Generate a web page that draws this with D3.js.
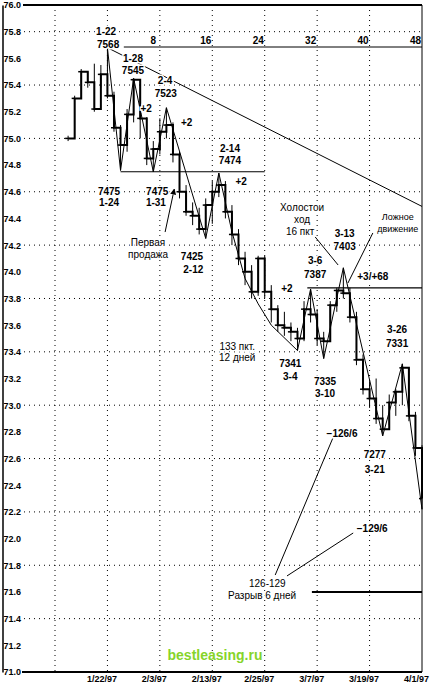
<!DOCTYPE html>
<html>
<head>
<meta charset="utf-8">
<script src="https://cdn.jsdelivr.net/npm/d3@7"></script>
<style>
  body { margin: 0; background: #fff; }
  text { font-family: "Liberation Sans", Arial, sans-serif; fill: #000; }
  .num { font-size: 10px; font-weight: bold; }
  .ru { font-size: 10px; }
  .ru-small { font-size: 9px; }
  .halo { paint-order: stroke; stroke: #fff; stroke-width: 3px; }
</style>
</head>
<body>
<div id="chart"></div>
<script>
// bars: day index (0 = 1/22/97), high, low, close
var days   = [-6,-5,-4,-3,-2,-1,0,1,2,3,4,5,6,7,8,9,10,11,12,13,14,15,16,17,18,19,20,21,22,23,24,25,26,27,28,29,30,31,32,33,34,35,36,37,38,39,40,41,42,43,44,45,46,47,48];
var highs  = [75.02,75.32,75.52,75.50,75.56,75.55,75.68,75.35,75.10,75.22,75.45,75.44,75.16,74.98,75.15,75.23,75.12,74.90,74.65,74.52,74.48,74.55,74.68,74.74,74.68,74.50,74.32,74.15,74.05,74.12,74.12,73.90,73.75,73.70,73.62,73.58,73.78,73.87,73.72,73.55,73.78,73.88,74.03,73.88,73.70,73.38,73.18,73.20,73.00,73.08,73.12,73.31,73.28,72.95,72.70];
var lows   = [74.98,75.00,75.30,75.38,75.20,75.38,75.30,75.05,74.76,74.90,75.12,75.00,74.80,74.75,74.88,75.00,74.82,74.55,74.42,74.35,74.28,74.25,74.36,74.56,74.40,74.20,74.05,73.90,73.80,73.82,73.80,73.62,73.55,73.52,73.48,73.41,73.48,73.62,73.45,73.35,73.48,73.70,73.80,73.62,73.30,73.08,72.98,72.86,72.77,72.85,72.92,73.00,72.88,72.62,72.22];
var closes = [75.00,75.30,75.50,75.42,75.22,75.48,75.32,75.08,74.95,75.18,75.44,75.15,74.85,74.92,75.05,75.10,74.88,74.60,74.45,74.42,74.32,74.50,74.60,74.65,74.45,74.28,74.10,74.00,73.85,74.10,73.85,73.72,73.60,73.58,73.55,73.50,73.72,73.68,73.50,73.48,73.75,73.86,73.84,73.66,73.34,73.12,73.05,72.90,72.82,73.02,73.10,73.28,72.92,72.68,72.30];

// swing line through the marked highs and lows
var swingDays   = [0,2,4,7,9,15,17,19,21,23,25,29,31,33,36,42,45,48];
var swingPrices = [75.68,74.76,75.45,74.75,75.23,74.25,74.74,74.30,73.95,73.76,73.60,73.41,73.87,73.35,74.03,72.77,73.31,72.22];

var yTicks = d3.range(71, 76.01, 0.2);
var gridPrices = [71.4,71.8,72.2,72.6,73.0,73.4,73.8,74.2,74.6,75.0,75.4,75.8];
var gridDays = [-8,0,8,16,24,32,40];
var dateDays = [0,8,16,24,32,40,48];
var dateLabels = ["1/22/97","2/3/97","2/13/97","2/25/97","3/7/97","3/19/97","4/1/97"];
var countDays = [8,16,24,32,40,48];

// annotations: text, day, price, class
var notes = [
  ["1-22",-0.2,75.775,"num"],["7568",0.1,75.678,"num"],
  ["1-28",3.9,75.573,"num"],["7545",3.9,75.483,"num"],
  ["2-4",8.8,75.408,"num"],["7523",8.9,75.31,"num"],
  ["+2",5.9,75.198,"num"],["+2",12.1,75.093,"num"],
  ["7475",0.25,74.576,"num"],["1-24",0.25,74.49,"num"],
  ["7475",7.6,74.576,"num"],["1-31",7.4,74.49,"num"],
  ["Первая",6.2,74.19,"ru"],["продажа",6.2,74.105,"ru"],
  ["7425",12.9,74.088,"num"],["2-12",13.1,73.99,"num"],
  ["2-14",18.7,74.898,"num"],["7474",18.7,74.808,"num"],
  ["+2",20.4,74.651,"num"],
  ["Холостои",29.7,74.456,"ru"],["ход",29.7,74.366,"ru"],["16 пкт",29.4,74.276,"ru"],
  ["3-13",36.2,74.261,"num"],["7403",36.2,74.163,"num"],
  ["Ложное",44.3,74.388,"ru-small"],["движение",44.3,74.298,"ru-small"],
  ["+3/+68",40.5,73.939,"num"],
  ["3-6",31.7,74.058,"num"],["7387",31.7,73.954,"num"],
  ["+2",27.4,73.849,"num"],
  ["3-26",44.2,73.541,"num"],["7331",44.2,73.436,"num"],
  ["133 пкт.",19.8,73.414,"ru"],["12 дней",19.8,73.331,"ru"],
  ["7341",27.9,73.286,"num"],["3-4",27.9,73.189,"num"],
  ["7335",33.2,73.151,"num"],["3-10",33.2,73.061,"num"],
  ["−126/6",35.8,72.762,"num"],
  ["7277",40.8,72.604,"num"],["3-21",40.8,72.492,"num"],
  ["−129/6",40.4,72.049,"num"],
  ["126-129",24.4,71.637,"ru"],["Разрыв 6 дней",23.6,71.547,"ru"]
];

// thin pointer lines: day1, price1, day2, price2
var pointers = [
  [31.7,74.261,35.2,74.051],
  [40.5,74.291,36.7,73.916],
  [25.6,71.727,34.4,72.754],
  [27.4,71.72,37.5,72.042]
];

var width = 431, height = 687;
var svg = d3.select("#chart").append("svg")
    .attr("width", width)
    .attr("height", height);

var x = d3.scaleLinear().domain([-8, 48]).range([55, 422]);
var y = d3.scaleLinear().domain([71, 76]).range([672, 5]);

// dotted grid
svg.append("g").selectAll("line")
    .data(gridPrices)
    .enter().append("line")
    .attr("x1", 24).attr("x2", 422)
    .attr("y1", d => y(d)).attr("y2", d => y(d))
    .style("stroke", "#000").style("stroke-width", 1)
    .style("stroke-dasharray", "1,4");

svg.append("g").selectAll("line")
    .data(gridDays)
    .enter().append("line")
    .attr("x1", d => x(d)).attr("x2", d => x(d))
    .attr("y1", y(76)).attr("y2", y(71))
    .style("stroke", "#000").style("stroke-width", 1)
    .style("stroke-dasharray", "1,4");

// left axis
var yAxis = svg.append("g")
    .attr("transform", "translate(2.5,0)")
    .call(d3.axisRight(y).tickValues(yTicks).tickSize(0).tickPadding(1).tickFormat(d3.format(".1f")));
yAxis.select(".domain").style("stroke-width", 1.5);
yAxis.selectAll("text").style("font-family", "Liberation Sans").style("font-size", "9px").style("font-weight", "bold");

// bottom axis
var xAxis = svg.append("g")
    .attr("transform", "translate(0," + y(71) + ")")
    .call(d3.axisBottom(x).tickValues(dateDays).tickSize(0).tickPadding(4)
        .tickFormat((d, i) => dateLabels[i]));
xAxis.select(".domain").remove();
xAxis.selectAll("text").attr("dx", -6).style("font-family", "Liberation Sans").style("font-size", "9px").style("font-weight", "bold");

svg.append("line")
    .attr("x1", 22).attr("x2", 422)
    .attr("y1", y(71)).attr("y2", y(71))
    .style("stroke", "#000").style("stroke-width", 2);

// frame
svg.append("line")
    .attr("x1", 23).attr("x2", 422)
    .attr("y1", y(76)).attr("y2", y(76))
    .style("stroke", "#000").style("stroke-width", 2);
svg.append("line")
    .attr("x1", 422).attr("x2", 422)
    .attr("y1", y(76)).attr("y2", y(71))
    .style("stroke", "#000").style("stroke-width", 1);

// top bar-count scale
var topAxis = svg.append("g")
    .attr("transform", "translate(0,47)")
    .call(d3.axisTop(x).tickValues(countDays).tickSize(0).tickPadding(3));
topAxis.select(".domain").remove();
topAxis.selectAll("text").attr("dx", -7).style("font-family", "Liberation Sans").style("font-size", "10px").style("font-weight", "bold");
svg.append("line")
    .attr("x1", x(2.5)).attr("x2", x(48))
    .attr("y1", 47).attr("y2", 47)
    .style("stroke", "#000").style("stroke-width", 1);

// reference lines
function hline(d0, d1, p, w) {
    svg.append("line")
        .attr("x1", x(d0)).attr("x2", x(d1))
        .attr("y1", y(p)).attr("y2", y(p))
        .style("stroke", "#000").style("stroke-width", w);
}
hline(2, 24, 74.75, 1.2);
hline(30.5, 48, 73.88, 1.2);
hline(31.2, 48, 71.6, 2);

// downtrend line from 1-22 high
svg.append("line")
    .attr("x1", x(0)).attr("y1", y(75.68))
    .attr("x2", x(48)).attr("y2", y(74.49))
    .style("stroke", "#000").style("stroke-width", 1);

// daily high-low bars
var bars = days.map((d, i) => ({day: d, high: highs[i], low: lows[i], close: closes[i]}));
svg.append("g").selectAll("line")
    .data(bars)
    .enter().append("line")
    .attr("x1", d => x(d.day)).attr("x2", d => x(d.day))
    .attr("y1", d => y(d.high)).attr("y2", d => y(d.low))
    .style("stroke", "#000").style("stroke-width", 1);

// close ticks
svg.append("g").selectAll("line")
    .data(bars)
    .enter().append("line")
    .attr("x1", d => x(d.day) - 3).attr("x2", d => x(d.day))
    .attr("y1", d => y(d.close)).attr("y2", d => y(d.close))
    .style("stroke", "#000").style("stroke-width", 1.5);

// heavy step line of closes
var step = d3.line()
    .curve(d3.curveStepAfter)
    .x(d => x(d.day))
    .y(d => y(d.close));
svg.append("path")
    .datum(bars)
    .attr("d", step)
    .style("fill", "none")
    .style("stroke", "#000")
    .style("stroke-width", 2);

// swing line
var swing = swingDays.map((d, i) => ({day: d, price: swingPrices[i]}));
svg.append("path")
    .datum(swing)
    .attr("d", d3.line().x(d => x(d.day)).y(d => y(d.price)))
    .style("fill", "none")
    .style("stroke", "#000")
    .style("stroke-width", 1);

// pointer lines
svg.append("g").selectAll("line")
    .data(pointers)
    .enter().append("line")
    .attr("x1", d => x(d[0])).attr("y1", d => y(d[1]))
    .attr("x2", d => x(d[2])).attr("y2", d => y(d[3]))
    .style("stroke", "#000").style("stroke-width", 1);

// arrow to first sale
svg.append("defs").append("marker")
    .attr("id", "arrow")
    .attr("viewBox", "0 0 10 10")
    .attr("refX", 9).attr("refY", 5)
    .attr("markerWidth", 6).attr("markerHeight", 6)
    .attr("orient", "auto")
    .append("path").attr("d", "M0,0L10,5L0,10z").style("fill", "#000");
svg.append("line")
    .attr("x1", x(8.8)).attr("y1", y(74.298))
    .attr("x2", x(10.2)).attr("y2", y(74.62))
    .style("stroke", "#000").style("stroke-width", 1)
    .attr("marker-end", "url(#arrow)");

// annotation text
svg.append("g").selectAll("text")
    .data(notes)
    .enter().append("text")
    .attr("class", d => d[3] + " halo")
    .attr("x", d => x(d[1]))
    .attr("y", d => y(d[2]))
    .attr("text-anchor", "middle")
    .text(d => d[0]);

// watermark
svg.append("text")
    .attr("x", 215).attr("y", 660)
    .attr("text-anchor", "middle")
    .style("font-size", "14px")
    .style("font-weight", "bold")
    .style("fill", "#86d42a")
    .text("bestleasing.ru");
</script>
</body>
</html>
